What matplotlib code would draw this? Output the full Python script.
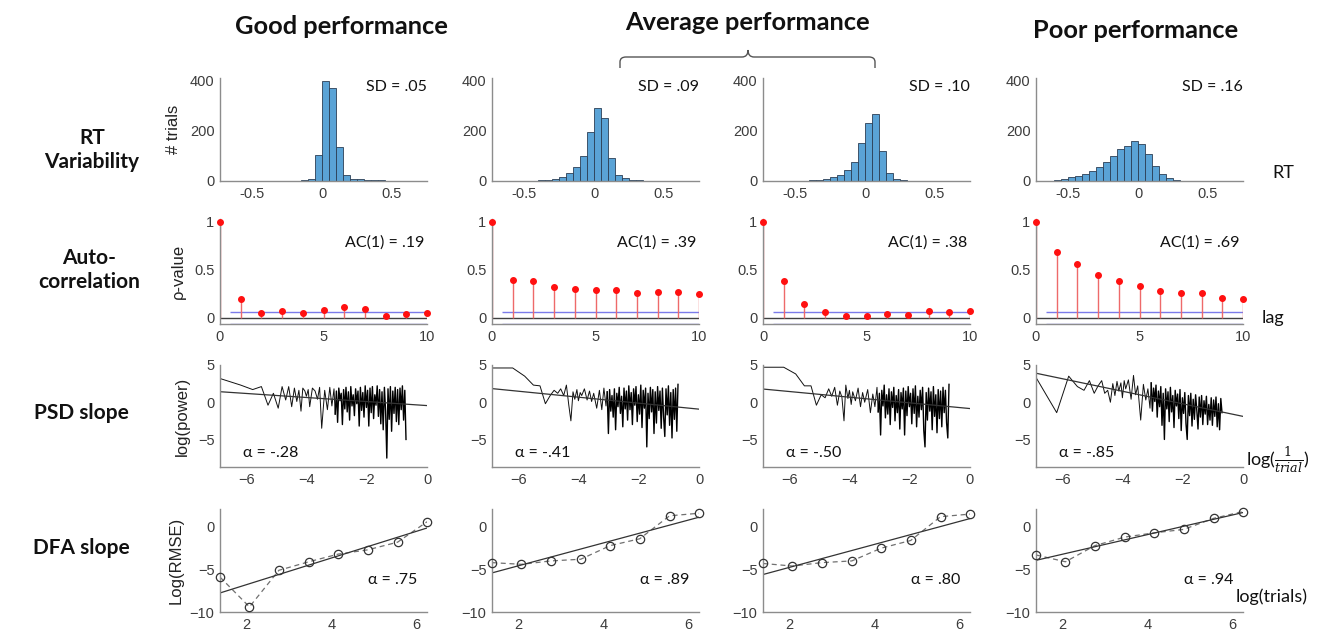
import matplotlib
matplotlib.use('Agg')
import matplotlib.pyplot as plt
import numpy as np
from matplotlib.path import Path
from matplotlib.patches import PathPatch

plt.rcParams['font.family'] = ['Lato', 'DejaVu Sans']
plt.rcParams['mathtext.fontset'] = 'dejavuserif'

W, H = 1320, 636

# ---- data ----
col_titles = ['Good performance', 'Average performance', 'Poor performance']

# RT histograms: bin left edges (width .05) and counts per column
hist_edges = [-0.70, -0.65, -0.60, -0.55, -0.50, -0.45, -0.40, -0.35, -0.30, -0.25,
              -0.20, -0.15, -0.10, -0.05, 0.00, 0.05, 0.10, 0.15, 0.20, 0.25,
              0.30, 0.35, 0.40, 0.45, 0.50, 0.55, 0.60, 0.65, 0.70]
hist_good = [0, 0, 0, 0, 0, 0, 0, 1, 1, 1, 1, 2, 8, 102, 397, 367, 135, 22, 9, 6,
             5, 3, 2, 1, 1, 0, 0, 0, 0]
hist_avg1 = [0, 0, 0, 0, 0, 1, 2, 4, 8, 15, 30, 55, 100, 195, 290, 250, 90, 25, 10, 4,
             2, 1, 0, 0, 0, 0, 0, 0, 0]
hist_avg2 = [0, 0, 0, 0, 0, 1, 2, 4, 8, 15, 25, 45, 75, 150, 230, 265, 120, 30, 8, 3,
             1, 0, 0, 0, 0, 0, 0, 0, 0]
hist_poor = [0, 1, 3, 8, 14, 20, 28, 40, 55, 75, 100, 125, 140, 160, 145, 105, 60, 28, 10, 4,
             1, 0, 0, 0, 0, 0, 0, 0, 0]
sd_labels = ['SD = .05', 'SD = .09', 'SD = .10', 'SD = .16']

# autocorrelation, lags 0..10
lags = [0, 1, 2, 3, 4, 5, 6, 7, 8, 9, 10]
ac_good = [1.0, 0.20, 0.05, 0.07, 0.05, 0.086, 0.117, 0.093, 0.024, 0.04, 0.055]
ac_avg1 = [1.0, 0.40, 0.39, 0.32, 0.30, 0.29, 0.29, 0.26, 0.27, 0.27, 0.25]
ac_avg2 = [1.0, 0.38, 0.15, 0.06, 0.02, 0.02, 0.04, 0.03, 0.07, 0.06, 0.07]
ac_poor = [1.0, 0.69, 0.56, 0.45, 0.39, 0.33, 0.286, 0.265, 0.26, 0.207, 0.193]
ac_bound = 0.0625
ac_labels = ['AC(1) = .19', 'AC(1) = .39', 'AC(1) = .38', 'AC(1) = .69']

# power spectra, log(1/trial) vs log(power)
psd_x = [-6.91, -6.21, -5.81, -5.52, -5.30, -5.12, -4.96, -4.83, -4.71, -4.61,
         -4.51, -4.42, -4.34, -4.27, -4.20, -4.14, -4.07, -4.02, -3.96, -3.91,
         -3.82, -3.73, -3.65, -3.58, -3.51, -3.41, -3.32, -3.24, -3.17, -3.10,
         -3.06, -3.02, -2.98, -2.94, -2.90, -2.86, -2.82, -2.78, -2.74, -2.70,
         -2.66, -2.62, -2.58, -2.54, -2.50, -2.46, -2.42, -2.38, -2.34, -2.30,
         -2.26, -2.22, -2.18, -2.14, -2.10, -2.06, -2.02, -1.98, -1.94, -1.90,
         -1.86, -1.82, -1.78, -1.74, -1.70, -1.66, -1.62, -1.58, -1.54, -1.50,
         -1.46, -1.42, -1.38, -1.34, -1.30, -1.26, -1.22, -1.18, -1.14, -1.10,
         -1.06, -1.02, -0.98, -0.94, -0.90, -0.86, -0.82, -0.78, -0.74, -0.70]
psd_good = [3.2, 2.3, 1.7, 2.1, -0.4, 1.2, -0.8, 2.1, 0.3, 2.1,
            -0.6, 1.9, 0.1, 1.6, -1.2, 1.9, 1.5, 0.8, 1.7, -0.6,
            1.9, 1.5, 0.4, 2.0, -3.5, 1.6, -1.0, 2.0, -0.5, 1.8,
            -1.6, 1.5, -2.7, 1.9, 0.2, 1.2, -3.0, 1.7, -0.9, 2.0,
            -1.3, 1.4, -2.4, 2.1, -0.5, 1.0, -1.8, 1.8, -0.2, 1.5,
            -3.2, 2.0, -1.1, 1.3, -2.0, 2.2, -0.7, 1.6, -3.2, 1.9,
            -1.4, 2.1, -2.2, 1.0, -0.4, 2.2, -1.9, 1.7, -2.9, 1.4,
            -3.7, 2.0, -1.2, -7.5, 1.8, -2.3, 2.1, -3.9, 1.5, -1.5,
            2.0, -2.6, 1.7, -3.0, 1.9, -1.0, 2.2, -2.4, 1.6, -5.0]
psd_avg1 = [4.6, 4.6, 3.5, 2.3, 2.2, -0.2, 0.9, 1.6, 1.2, 1.8,
            0.9, 2.3, -0.4, -2.5, 1.4, 0.4, 1.7, 0.2, 1.3, 0.9,
            1.8, 0.3, 1.5, 0.1, 1.2, -0.8, 1.6, -1.0, 1.9, -0.5,
            1.4, -4.2, 1.7, -1.2, 0.9, -2.0, 1.8, -3.7, 1.2, -0.6,
            2.0, -1.5, 0.8, -3.3, 1.9, -0.9, 1.5, -2.4, 2.2, -1.0,
            1.3, -3.0, 1.8, -0.4, 2.1, -2.6, 1.0, -1.6, 2.3, -3.4,
            1.6, -0.8, 1.9, -6.0, 1.2, -2.2, 2.0, -1.3, 1.7, -4.2,
            1.4, -2.8, 2.1, -1.1, 1.5, -3.5, 1.9, -2.0, -4.6, 1.8,
            -1.7, 2.2, -3.1, 1.3, -4.8, 1.7, -2.3, 1.9, -3.9, 2.4]
psd_avg2 = [4.7, 4.7, 3.8, 2.2, 2.2, -0.4, 1.0, 0.6, 1.8, 0.8,
            2.0, -0.4, 1.5, 0.7, -2.5, 2.3, 0.5, 1.6, -0.3, 1.4,
            0.2, 1.9, -0.6, 1.3, 0.0, 1.7, -1.4, 1.1, -0.6, 2.0,
            -1.3, 1.2, -4.4, 1.6, -0.5, 2.3, -2.1, 1.0, -1.6, 1.8,
            -3.0, 1.4, -0.7, 2.0, -2.5, 0.9, -1.4, 1.7, -3.6, 1.3,
            -0.9, 1.9, -4.4, 1.5, -1.8, 2.1, -0.6, 1.2, -2.9, 1.8,
            -1.5, 2.2, -3.3, 0.8, -2.0, 1.6, -1.0, 2.0, -3.8, -6.0,
            1.3, -2.4, 1.9, -1.2, 1.4, -3.7, 2.1, -1.9, 1.0, -4.1,
            1.7, -2.2, 1.5, -3.3, 2.0, -1.4, 1.6, -2.8, -4.8, 2.4]
psd_poor = [3.4, -1.4, 3.5, 2.1, 1.6, 2.9, 1.2, 2.2, 2.9, 1.2,
            1.6, 0.0, 2.5, 0.9, 2.8, 1.5, 2.6, 0.6, 2.9, 1.8,
            3.0, 0.4, 3.6, 1.0, 2.2, -2.4, 2.4, 0.3, 1.8, -0.8,
            2.6, -1.2, 1.9, 0.1, 2.3, -2.0, 1.5, -0.6, 2.1, -3.1,
            1.2, -5.0, 1.8, -0.9, 1.4, -2.6, 2.0, -1.3, 0.9, -3.4,
            1.6, -0.5, 1.1, -2.2, 1.7, -3.8, 0.6, -1.5, 1.3, -2.9,
            -5.0, 0.9, -1.8, 1.2, -3.2, 0.4, -2.3, 1.0, -1.1, -3.6,
            0.7, -2.0, 0.9, -3.0, 0.2, -1.6, 0.8, -3.0, -0.3, -2.4,
            0.6, -3.1, 0.3, -1.9, 0.7, -3.3, -0.2, -3.7, 0.5, -1.4]
# fitted line: slope and value at log(1/trial) = 0
psd_fit_slope = [-0.27, -0.40, -0.38, -0.84]
psd_fit_icpt = [-0.45, -0.93, -0.85, -1.90]
psd_labels = ['α = -.28', 'α = -.41', 'α = -.50', 'α = -.85']

# DFA
dfa_x = [1.39, 2.08, 2.77, 3.47, 4.16, 4.85, 5.55, 6.24]
dfa_good = [-5.9, -9.4, -5.1, -4.1, -3.2, -2.7, -1.8, 0.6]
dfa_avg1 = [-4.2, -4.4, -4.0, -3.8, -2.2, -1.4, 1.3, 1.6]
dfa_avg2 = [-4.3, -4.6, -4.2, -4.0, -2.5, -1.6, 1.2, 1.5]
dfa_poor = [-3.3, -4.1, -2.2, -1.2, -0.7, -0.3, 1.0, 1.8]
dfa_labels = ['α = .75', 'α = .89', 'α = .80', 'α = .94']

hists = [hist_good, hist_avg1, hist_avg2, hist_poor]
acs = [ac_good, ac_avg1, ac_avg2, ac_poor]
psds = [psd_good, psd_avg1, psd_avg2, psd_poor]
dfas = [dfa_good, dfa_avg1, dfa_avg2, dfa_poor]

# ---- layout (pixels) ----
col_left = [220, 492, 763, 1036]
col_w = 207
rows = [(78, 181), (219, 324), (365, 467), (509, 612)]

fig = plt.figure(figsize=(W / 100, H / 100), dpi=100)

axis_gray = '#8c8c8c'
tick_gray = '#3c3c3c'


def make_ax(r, c):
    top, bot = rows[r]
    ax = fig.add_axes([col_left[c] / W, 1 - bot / H, col_w / W, (bot - top) / H])
    for s in ['top', 'right']:
        ax.spines[s].set_visible(False)
    for s in ['left', 'bottom']:
        ax.spines[s].set_color(axis_gray)
        ax.spines[s].set_linewidth(1.0)
    ax.tick_params(length=0, pad=4, colors=tick_gray)
    return ax


def style_ticks(ax):
    for lab in ax.get_xticklabels() + ax.get_yticklabels():
        lab.set_family(['Liberation Sans', 'DejaVu Sans'])
        lab.set_fontsize(10.5)
        lab.set_color(tick_gray)


ylab_kw = dict(family=['Liberation Sans', 'DejaVu Sans'], fontsize=12, color='#222222')
ann_kw = dict(fontsize=11.5, color='#111111')

for c in range(4):
    # histogram
    ax = make_ax(0, c)
    ax.bar(hist_edges, hists[c], width=0.05, align='edge', color='#5aa3d6',
           edgecolor='#2b3f55', linewidth=0.6)
    ax.set_xlim(-0.73, 0.75)
    ax.set_ylim(0, 408)
    ax.set_xticks([-0.5, 0, 0.5])
    ax.set_xticklabels(['-0.5', '0', '0.5'])
    ax.set_yticks([0, 200, 400])
    style_ticks(ax)
    ax.text(1.0, 0.91, sd_labels[c], transform=ax.transAxes, ha='right', va='center', **ann_kw)
    if c == 0:
        ax.set_ylabel('# trials', labelpad=6, **ylab_kw)

    # autocorrelation
    ax = make_ax(1, c)
    ax.axhline(0, color='#404040', lw=1.0)
    ax.hlines([ac_bound, -ac_bound], 0.5, 10, color='#7b7bea', lw=1.0)
    ax.vlines(lags, 0, acs[c], color='#ee6a6a', lw=1.0)
    ax.plot(lags, acs[c], 'o', color='#ff1010', ms=4, clip_on=False, zorder=4)
    ax.set_xlim(0, 10)
    ax.set_ylim(-ac_bound, 1.03)
    ax.set_xticks([0, 5, 10])
    ax.set_yticks([0, 0.5, 1])
    ax.set_yticklabels(['0', '0.5', '1'])
    style_ticks(ax)
    ax.text(0.985, 0.78, ac_labels[c], transform=ax.transAxes, ha='right', va='center', **ann_kw)
    if c == 0:
        ax.set_ylabel('ρ-value', labelpad=6, **ylab_kw)

    # PSD: thin line over the sparse low frequencies, heavier where dense
    ax = make_ax(2, c)
    ax.plot(psd_x[:31], psds[c][:31], color='#111111', lw=0.7)
    ax.plot(psd_x[30:], psds[c][30:], color='#000000', lw=1.0)
    fx = np.array([-6.9, 0.0])
    ax.plot(fx, psd_fit_icpt[c] + psd_fit_slope[c] * fx, color='#333333', lw=0.9)
    ax.set_xlim(-6.9, 0)
    ax.set_ylim(-8.7, 5)
    ax.set_xticks([-6, -4, -2, 0])
    ax.set_yticks([-5, 0, 5])
    style_ticks(ax)
    ax.text(0.11, 0.14, psd_labels[c], transform=ax.transAxes, ha='left', va='center', **ann_kw)
    if c == 0:
        ax.set_ylabel('log(power)', labelpad=6, **ylab_kw)

    # DFA
    ax = make_ax(3, c)
    ax.plot(dfa_x, dfas[c], '--', color='#707070', lw=0.9, dashes=(4, 3))
    ax.plot(dfa_x, dfas[c], 'o', mfc='none', mec='#333333', ms=6, mew=0.9, clip_on=False, zorder=4)
    slope, icpt = np.polyfit(dfa_x, dfas[c], 1)
    fx = np.array([dfa_x[0], dfa_x[-1]])
    ax.plot(fx, icpt + slope * fx, color='#333333', lw=0.9)
    ax.set_xlim(1.39, 6.24)
    ax.set_ylim(-10, 2.1)
    ax.set_xticks([2, 4, 6])
    ax.set_yticks([-10, -5, 0])
    style_ticks(ax)
    ax.text(0.955, 0.31, dfa_labels[c], transform=ax.transAxes, ha='right', va='center', **ann_kw)
    if c == 0:
        ax.set_ylabel('Log(RMSE)', labelpad=4, **ylab_kw)


def fp(x, y):
    return x / W, 1 - y / H


# column titles
title_kw = dict(fontsize=18.3, fontweight='bold', ha='center', va='center', color='#111111')
fig.text(*fp(341, 27), col_titles[0], **title_kw)
fig.text(*fp(747, 22), col_titles[1], **title_kw)
fig.text(*fp(1136, 30), col_titles[2], **title_kw)

# brace over the two average-performance columns
verts = [(620, 68), (620, 62), (620, 57), (626, 57), (742, 57), (748, 57), (748, 50),
         (748, 57), (754, 57), (869, 57), (875, 57), (875, 62), (875, 68)]
codes = [Path.MOVETO, Path.LINETO, Path.CURVE3, Path.CURVE3, Path.LINETO, Path.CURVE3, Path.CURVE3,
         Path.CURVE3, Path.CURVE3, Path.LINETO, Path.CURVE3, Path.CURVE3, Path.LINETO]
brace = Path([fp(x, y) for x, y in verts], codes)
fig.patches.append(PathPatch(brace, transform=fig.transFigure, fill=False,
                             edgecolor='#555555', lw=1.0))

# row labels
row_kw = dict(fontsize=15, fontweight='bold', ha='center', va='center',
              multialignment='center', color='#111111', linespacing=1.3)
fig.text(*fp(92, 150), 'RT\nVariability', **row_kw)
fig.text(*fp(89, 270), 'Auto-\ncorrelation', **row_kw)
fig.text(*fp(81, 413), 'PSD slope', **row_kw)
fig.text(*fp(81, 548), 'DFA slope', **row_kw)

# axis names on the right
side_kw = dict(fontsize=13, ha='left', va='center', color='#111111')
fig.text(*fp(1272, 173), 'RT', **side_kw)
fig.text(*fp(1262, 318), 'lag', **side_kw)
fig.text(*fp(1246, 460), r'log($\frac{1}{trial}$)', **side_kw)
fig.text(*fp(1236, 597), 'log(trials)', **side_kw)

fig.savefig('out.png', dpi=100)
